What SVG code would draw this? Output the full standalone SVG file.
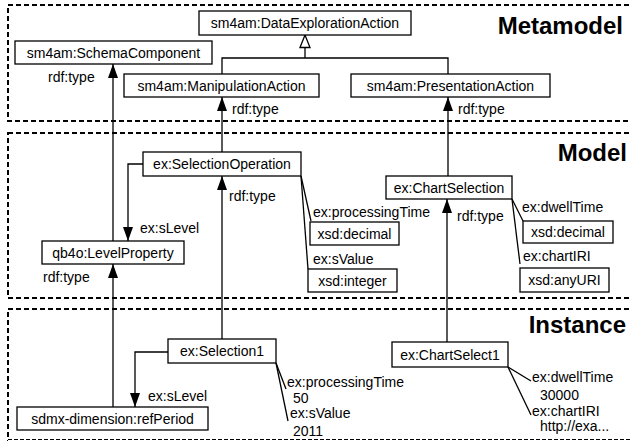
<svg xmlns="http://www.w3.org/2000/svg" width="631" height="441" viewBox="0 0 631 441">
<style>
.panel{fill:none;stroke:#000;stroke-width:2;stroke-dasharray:5 3}
.box{fill:#fff;stroke:#000;stroke-width:1.3}
.t{font-family:"Liberation Sans",Arial,sans-serif;font-size:14px;fill:#000}
.c{text-anchor:middle}
.h{font-family:"Liberation Sans",Arial,sans-serif;font-size:24px;font-weight:bold;text-anchor:end;fill:#000}
.ln{fill:none;stroke:#000;stroke-width:1.3}
</style>
<defs>
<marker id="arr" markerUnits="userSpaceOnUse" markerWidth="15" markerHeight="11" refX="14" refY="5" orient="auto" viewBox="0 0 15 11">
<path d="M0,0 L14,5 L0,10 Z" fill="#000"/>
</marker>
<marker id="gen" markerUnits="userSpaceOnUse" markerWidth="15" markerHeight="13" refX="13.5" refY="6" orient="auto" viewBox="0 0 15 13">
<path d="M1,1 L13.5,6 L1,11 Z" fill="#fff" stroke="#000" stroke-width="1.3"/>
</marker>
</defs>
<rect width="631" height="441" fill="#fff"/>
<g id="panels">
<rect class="panel" x="8" y="5" width="640" height="116"/>
<rect class="panel" x="8" y="133" width="640" height="165"/>
<rect class="panel" x="8" y="309" width="640" height="160"/>
<line x1="8" y1="439.5" x2="631" y2="439.5" stroke="#fff" stroke-width="3"/>
<line x1="8" y1="439.5" x2="631" y2="439.5" stroke="#000" stroke-width="1" stroke-dasharray="4 2"/>
<text class="h" x="623" y="34">Metamodel</text>
<text class="h" x="627" y="161">Model</text>
<text class="h" x="626" y="333">Instance</text>
</g>
<g id="connectors">
<path class="ln" d="M222,74 V58 H448 V74"/>
<path class="ln" d="M305,58 V35" marker-end="url(#gen)"/>
<path class="ln" d="M113,241 V64" marker-end="url(#arr)"/>
<path class="ln" d="M113,407 V264" marker-end="url(#arr)"/>
<path class="ln" d="M222,152 V97" marker-end="url(#arr)"/>
<path class="ln" d="M222,339 V176" marker-end="url(#arr)"/>
<path class="ln" d="M448,176 V97" marker-end="url(#arr)"/>
<path class="ln" d="M447,342 V199" marker-end="url(#arr)"/>
<path class="ln" d="M143,164 H128 V241" marker-end="url(#arr)"/>
<path class="ln" d="M168,352 H135 V407" marker-end="url(#arr)"/>
<path class="ln" d="M301,176 L311,221"/>
<path class="ln" d="M301,176 L308,269"/>
<path class="ln" d="M512,199 L523,221"/>
<path class="ln" d="M512,199 L520,264"/>
<path class="ln" d="M276,363 L286,389"/>
<path class="ln" d="M276,363 L288,421"/>
<path class="ln" d="M508,367 L531,381"/>
<path class="ln" d="M508,367 L531,415"/>
<text class="t" x="48" y="82">rdf:type</text>
<text class="t" x="232" y="114">rdf:type</text>
<text class="t" x="458" y="114">rdf:type</text>
<text class="t" x="229" y="201">rdf:type</text>
<text class="t" x="457" y="221">rdf:type</text>
<text class="t" x="43" y="282">rdf:type</text>
<text class="t" x="140" y="233">ex:sLevel</text>
<text class="t" x="148" y="401">ex:sLevel</text>
<text class="t" x="313" y="217">ex:processingTime</text>
<text class="t" x="313" y="264">ex:sValue</text>
<text class="t" x="522" y="212">ex:dwellTime</text>
<text class="t" x="523" y="261">ex:chartIRI</text>
<text class="t" x="287" y="387">ex:processingTime</text>
<text class="t" x="293" y="403">50</text>
<text class="t" x="290" y="418">ex:sValue</text>
<text class="t" x="293" y="436">2011</text>
<text class="t" x="532" y="382">ex:dwellTime</text>
<text class="t" x="540" y="400">30000</text>
<text class="t" x="532" y="416">ex:chartIRI</text>
<text class="t" x="540" y="431">http://exa...</text>
</g>
<g id="DataExplorationAction"><rect class="box" x="199" y="11" width="212" height="24"/><text class="t c" x="305" y="28">sm4am:DataExplorationAction</text></g>
<g id="SchemaComponent"><rect class="box" x="15" y="41" width="197" height="23"/><text class="t c" x="113.5" y="57.5">sm4am:SchemaComponent</text></g>
<g id="ManipulationAction"><rect class="box" x="124" y="74" width="195" height="23"/><text class="t c" x="221.5" y="90.5">sm4am:ManipulationAction</text></g>
<g id="PresentationAction"><rect class="box" x="351" y="74" width="199" height="23"/><text class="t c" x="450.5" y="90.5">sm4am:PresentationAction</text></g>
<g id="SelectionOperation"><rect class="box" x="143" y="152" width="158" height="24"/><text class="t c" x="222" y="169">ex:SelectionOperation</text></g>
<g id="LevelProperty"><rect class="box" x="42" y="241" width="142" height="23"/><text class="t c" x="113" y="257.5">qb4o:LevelProperty</text></g>
<g id="ChartSelection"><rect class="box" x="386" y="176" width="126" height="23"/><text class="t c" x="449" y="192.5">ex:ChartSelection</text></g>
<g id="xsdDecimal1"><rect class="box" x="310" y="222" width="89" height="23"/><text class="t c" x="354.5" y="238.5">xsd:decimal</text></g>
<g id="xsdInteger"><rect class="box" x="308" y="269" width="89" height="23"/><text class="t c" x="352.5" y="285.5">xsd:integer</text></g>
<g id="xsdDecimal2"><rect class="box" x="523" y="221" width="90" height="22"/><text class="t c" x="568" y="237">xsd:decimal</text></g>
<g id="xsdAnyURI"><rect class="box" x="520" y="268" width="89" height="24"/><text class="t c" x="564.5" y="285">xsd:anyURI</text></g>
<g id="Selection1"><rect class="box" x="168" y="339" width="108" height="24"/><text class="t c" x="222" y="356">ex:Selection1</text></g>
<g id="refPeriod"><rect class="box" x="17" y="407" width="191" height="23"/><text class="t c" x="112.5" y="423.5">sdmx-dimension:refPeriod</text></g>
<g id="ChartSelect1"><rect class="box" x="392" y="342" width="116" height="25"/><text class="t c" x="450" y="359.5">ex:ChartSelect1</text></g>
</svg>
